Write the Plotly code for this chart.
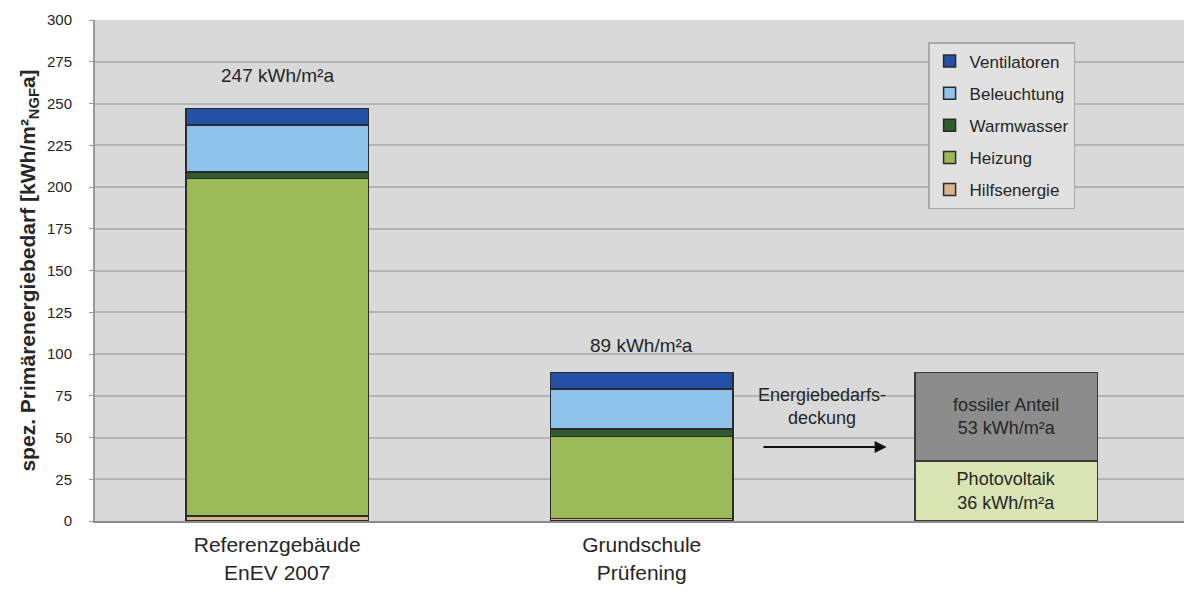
import plotly.graph_objects as go

# Data
categories = [0, 1]
cat_labels = ["Referenzgebäude<br>EnEV 2007", "Grundschule<br>Prüfening"]
hilfsenergie = [3, 1.5]
heizung = [202, 49]
warmwasser = [4, 4.5]
beleuchtung = [28, 24]
ventilatoren = [10, 10]
totals_text = ["247 kWh/m²a", "89 kWh/m²a"]
totals = [247, 89]

supply_cat = [2]
photovoltaik = [36]
fossil = [53]

series = [
    ("Hilfsenergie", hilfsenergie, "#d9b48c"),
    ("Heizung", heizung, "#9bbb59"),
    ("Warmwasser", warmwasser, "#2e5c2e"),
    ("Beleuchtung", beleuchtung, "#8ec4ec"),
    ("Ventilatoren", ventilatoren, "#2451a8"),
]

FONT = "Liberation Sans"
TXT = "#262626"

fig = go.Figure()
n = len(series)
for i, (name, vals, col) in enumerate(series):
    fig.add_trace(go.Bar(
        x=categories, y=vals, name=name, width=0.5,
        marker=dict(color=col, line=dict(color="#2b2b2b", width=1.5)),
        legendgroup=name, legendrank=n - i,
    ))

fig.add_trace(go.Bar(
    x=supply_cat, y=photovoltaik, name="Photovoltaik", width=0.5, showlegend=False,
    marker=dict(color="#d8e4b2", line=dict(color="#3a3a3a", width=1.5)),
    text=["Photovoltaik<br>36 kWh/m²a"], textposition="inside", insidetextanchor="middle",
    textfont=dict(size=18, color=TXT, family=FONT),
))
fig.add_trace(go.Bar(
    x=supply_cat, y=fossil, name="fossiler Anteil", width=0.5, showlegend=False,
    marker=dict(color="#8c8c8c", line=dict(color="#3a3a3a", width=1.5)),
    text=["fossiler Anteil<br>53 kWh/m²a"], textposition="inside", insidetextanchor="middle",
    textfont=dict(size=18, color=TXT, family=FONT),
))

# total labels
for c, t, v in zip(categories, totals_text, totals):
    fig.add_annotation(x=c, y=v + (20 if v > 100 else 16), text=t, showarrow=False,
                       font=dict(size=19, color=TXT, family=FONT))

fig.add_annotation(x=1.495, y=68.5, text="Energiebedarfs-<br>deckung", showarrow=False,
                   font=dict(size=18, color=TXT, family=FONT))
fig.add_annotation(x=1.672, y=44.3, ax=1.33, ay=44.3, xref="x", yref="y",
                   axref="x", ayref="y", text="", showarrow=True,
                   arrowhead=2, arrowsize=1.2, arrowwidth=2, arrowcolor="#111111")

fig.update_layout(
    barmode="stack",
    width=1184, height=594,
    margin=dict(l=95, r=0, t=20, b=73),
    paper_bgcolor="white",
    plot_bgcolor="#d9d9d9",
    font=dict(family=FONT, color=TXT),
    legend=dict(
        x=0.765, y=0.956, xanchor="left", yanchor="top",
        bgcolor="#e1e1e1", bordercolor="#a8a8a8", borderwidth=1.5,
        font=dict(size=17, color=TXT),
        traceorder="grouped", tracegroupgap=7,
        itemwidth=30,
    ),
    showlegend=True,
)

fig.update_xaxes(
    range=[-0.5, 2.488],
    tickvals=categories, ticktext=cat_labels,
    tickfont=dict(size=21, color=TXT),
    showgrid=False, zeroline=False,
    showline=True, linecolor="#8a8a8a", linewidth=2,
    ticks="", ticklabelstandoff=4,
)
fig.update_yaxes(
    range=[0, 300], dtick=25,
    tickfont=dict(size=15, color=TXT),
    showgrid=True, gridcolor="#b4b4b4", gridwidth=1.5,
    zeroline=False,
    showline=True, linecolor="#9a9a9a", linewidth=2,
    ticks="outside", ticklen=4, tickcolor="#9a9a9a",
    ticklabelstandoff=14,
    title=dict(text="<b>spez. Primärenergiebedarf [kWh/m²<sub>NGF</sub>a]</b>",
               font=dict(size=21, color=TXT), standoff=6),
)

fig.write_html("out.html")
